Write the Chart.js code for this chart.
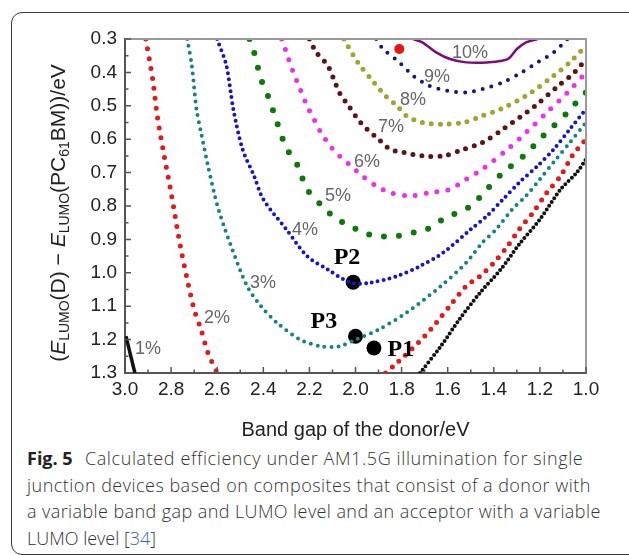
<!DOCTYPE html>
<html>
<head>
<meta charset="utf-8">
<script src="https://cdn.jsdelivr.net/npm/chart.js@4.4.0/dist/chart.umd.min.js"></script>
<style>
  body { margin: 0; background: #fff; width: 629px; height: 555px; overflow: hidden; position: relative; }
  .box { position: absolute; left: 11px; top: 12px; width: 640px; height: 541px; border: 1px solid #3a3a3a; border-radius: 11px; }
  #wrap { position: absolute; left: 0; top: 0; }
  .cap { position: absolute; left: 27px; top: 445px; width: 600px; white-space: nowrap;
         font-family: 'Open Sans', sans-serif; font-weight: 300; font-size: 18px; line-height: 26.6px; color: #333; }
  .cap b { color: #222; font-weight: 700; margin-right: 7px; letter-spacing: 0; }
  .cap span { color: #3b5fc0; }
  .l1 { letter-spacing: 0.6px; }
  .l2 { letter-spacing: 0.48px; }
  .l3 { letter-spacing: 0.41px; }
</style>
</head>
<body>
<div class="box"></div>
<div id="wrap"><canvas id="eff" width="629" height="445"></canvas></div>
<div class="cap">
  <div class="l1"><b>Fig. 5</b>&nbsp;Calculated efficiency under AM1.5G illumination for single</div>
  <div class="l2">junction devices based on composites that consist of a donor with</div>
  <div class="l3">a variable band gap and LUMO level and an acceptor with a variable</div>
  <div>LUMO level [<span>34</span>]</div>
</div>
<script>
// contour lines: [band gap, LUMO offset]
const c1a = [[2.996, 1.19], [2.957, 1.30]];
const c1b = [[1.72, 1.30], [1.63, 1.22], [1.55, 1.14], [1.46, 1.06], [1.37, 0.99], [1.29, 0.915], [1.20, 0.84], [1.11, 0.75], [1.04, 0.70], [1.0, 0.66]];
const c2a = [[2.91, 0.30], [2.88, 0.42], [2.86, 0.53], [2.83, 0.65], [2.80, 0.76], [2.76, 0.92], [2.73, 1.02], [2.70, 1.11], [2.67, 1.17], [2.64, 1.24], [2.60, 1.30]];
const c2b = [[1.87, 1.30], [1.82, 1.27], [1.70, 1.19], [1.65, 1.15], [1.58, 1.09], [1.52, 1.04], [1.46, 1.01], [1.40, 0.97], [1.34, 0.92], [1.29, 0.87], [1.23, 0.82], [1.17, 0.76], [1.11, 0.71], [1.06, 0.65], [1.0, 0.60]];
const c3 = [[2.73, 0.30], [2.71, 0.38], [2.69, 0.51], [2.67, 0.58], [2.64, 0.68], [2.61, 0.77], [2.59, 0.82], [2.54, 0.92], [2.47, 1.04], [2.41, 1.10], [2.34, 1.15], [2.24, 1.20], [2.15, 1.22], [2.07, 1.22], [2.00, 1.20], [1.90, 1.17], [1.78, 1.12], [1.63, 1.04], [1.52, 0.97], [1.45, 0.91], [1.39, 0.87], [1.32, 0.81], [1.26, 0.77], [1.20, 0.72], [1.13, 0.66], [1.07, 0.61], [1.0, 0.55]];
const c4 = [[2.60, 0.30], [2.56, 0.38], [2.53, 0.51], [2.49, 0.63], [2.44, 0.71], [2.40, 0.78], [2.30, 0.87], [2.21, 0.95], [2.12, 0.99], [2.02, 1.03], [1.94, 1.03], [1.82, 1.01], [1.72, 0.98], [1.62, 0.94], [1.50, 0.87], [1.43, 0.83], [1.36, 0.78], [1.29, 0.73], [1.21, 0.68], [1.14, 0.63], [1.07, 0.57], [1.0, 0.51]];
const c5 = [[2.46, 0.30], [2.44, 0.34], [2.41, 0.42], [2.38, 0.47], [2.34, 0.55], [2.31, 0.61], [2.28, 0.65], [2.25, 0.68], [2.21, 0.75], [2.13, 0.81], [2.08, 0.84], [2.02, 0.86], [1.97, 0.88], [1.90, 0.89], [1.82, 0.89], [1.75, 0.88], [1.69, 0.87], [1.62, 0.84], [1.56, 0.82], [1.50, 0.80], [1.43, 0.75], [1.36, 0.70], [1.27, 0.65], [1.20, 0.60], [1.14, 0.56], [1.08, 0.52], [1.03, 0.48], [1.0, 0.46]];
const c6 = [[2.32, 0.30], [2.30, 0.34], [2.27, 0.40], [2.24, 0.45], [2.21, 0.50], [2.18, 0.54], [2.15, 0.58], [2.11, 0.62], [2.07, 0.65], [2.02, 0.68], [1.97, 0.71], [1.91, 0.74], [1.85, 0.76], [1.76, 0.77], [1.68, 0.76], [1.59, 0.75], [1.52, 0.72], [1.45, 0.69], [1.34, 0.63], [1.26, 0.58], [1.17, 0.52], [1.08, 0.46], [1.0, 0.40]];
const c7 = [[2.20, 0.30], [2.17, 0.34], [2.12, 0.38], [2.07, 0.46], [2.03, 0.50], [1.99, 0.54], [1.95, 0.57], [1.90, 0.60], [1.85, 0.63], [1.79, 0.64], [1.71, 0.65], [1.62, 0.65], [1.53, 0.63], [1.45, 0.61], [1.36, 0.57], [1.22, 0.50], [1.12, 0.44], [1.05, 0.40], [1.0, 0.36]];
const c8 = [[2.05, 0.30], [1.99, 0.37], [1.92, 0.43], [1.87, 0.47], [1.82, 0.50], [1.78, 0.53], [1.71, 0.55], [1.62, 0.555], [1.53, 0.55], [1.45, 0.53], [1.37, 0.51], [1.26, 0.47], [1.14, 0.41], [1.07, 0.37], [1.0, 0.32]];
const c9 = [[1.91, 0.30], [1.88, 0.33], [1.81, 0.37], [1.75, 0.41], [1.68, 0.44], [1.60, 0.455], [1.52, 0.46], [1.45, 0.45], [1.36, 0.43], [1.28, 0.40], [1.21, 0.37], [1.14, 0.34], [1.08, 0.30]];
const c10 = [[1.75, 0.30], [1.71, 0.31], [1.65, 0.34], [1.59, 0.36], [1.52, 0.37], [1.43, 0.37], [1.34, 0.36], [1.30, 0.33], [1.26, 0.31], [1.21, 0.30]];

const pctText = ['1%', '2%', '3%', '4%', '5%', '6%', '7%', '8%', '9%', '10%'];
const pctAt = [[2.90, 1.228], [2.601, 1.135], [2.401, 1.031], [2.219, 0.872], [2.076, 0.770], [1.950, 0.668], [1.846, 0.563], [1.751, 0.483], [1.646, 0.414], [1.503, 0.342]];

const pName = ['P1', 'P2', 'P3'];
const pGap = [1.92, 2.01, 2.00];
const pLumo = [1.225, 1.028, 1.19];
const pNameAt = [[1.803, 1.231], [2.037, 0.956], [2.137, 1.147]];
const bestGap = [1.81];
const bestLumo = [0.33];

const xTicks = [3.0, 2.8, 2.6, 2.4, 2.2, 2.0, 1.8, 1.6, 1.4, 1.2, 1.0];

function pts(a) {
    return a.map(function (p) { return { x: p[0], y: p[1] } });
}

function dotted(data, color, size, gap) {
    return {
        data: pts(data), showLine: true, pointRadius: 0, tension: 0.3, clip: 0,
        borderColor: color, borderWidth: size, borderDash: [0, gap], borderCapStyle: 'round'
    };
}

function solid(data, color, size) {
    return { data: pts(data), showLine: true, pointRadius: 0, tension: 0.3, clip: 0, borderColor: color, borderWidth: size };
}

// y title with subscripts, ticks pointing in, labels on the contours
const extras = {
    id: 'extras',
    afterDraw: function (chart) {
        const ctx = chart.ctx;
        const xs = chart.scales.x, ys = chart.scales.y;
        const a = chart.chartArea;
        ctx.save();

        ctx.strokeStyle = '#999';
        ctx.lineWidth = 2;
        ctx.beginPath();
        ctx.moveTo(a.left, a.top); ctx.lineTo(a.right, a.top); ctx.lineTo(a.right, a.bottom);
        ctx.stroke();

        ctx.strokeStyle = '#555';
        ctx.lineWidth = 1.5;
        ctx.beginPath();
        for (let i = 10; i <= 30; i++) {
            const px = xs.getPixelForValue(i / 10);
            const len = i % 2 == 0 ? 6 : 3.5;
            ctx.moveTo(px, a.bottom); ctx.lineTo(px, a.bottom - len);
        }
        for (let i = 30; i <= 130; i += 5) {
            const py = ys.getPixelForValue(i / 100);
            const len = i % 10 == 0 ? 6 : 3.5;
            ctx.moveTo(a.left, py); ctx.lineTo(a.left + len, py);
        }
        ctx.stroke();

        ctx.fillStyle = '#666';
        ctx.font = '18px "Liberation Sans", Arial';
        ctx.textAlign = 'center';
        ctx.textBaseline = 'middle';
        pctText.forEach(function (t, i) {
            ctx.fillText(t, xs.getPixelForValue(pctAt[i][0]), ys.getPixelForValue(pctAt[i][1]));
        });

        ctx.fillStyle = '#000';
        ctx.font = 'bold 24px "Liberation Serif", "Times New Roman"';
        pName.forEach(function (t, i) {
            ctx.fillText(t, xs.getPixelForValue(pNameAt[i][0]), ys.getPixelForValue(pNameAt[i][1]));
        });

        // (E_LUMO(D) - E_LUMO(PC61BM))/eV
        const parts = [
            ['(', 'n'], ['E', 'i'], ['LUMO', 's'], ['(D) \u2212 ', 'n'], ['E', 'i'], ['LUMO', 's'],
            ['(PC', 'n'], ['61', 's'], ['BM))/eV', 'n']
        ];
        const fonts = { n: '21px "Liberation Sans"', i: 'italic 21px "Liberation Sans"', s: '14px "Liberation Sans"' };
        let total = 0;
        parts.forEach(function (p) { ctx.font = fonts[p[1]]; total += ctx.measureText(p[0]).width; });
        ctx.translate(57, (a.top + a.bottom) / 2 + 7);
        ctx.rotate(-Math.PI / 2);
        ctx.fillStyle = '#222';
        ctx.textAlign = 'left';
        ctx.textBaseline = 'alphabetic';
        let cx = -total / 2;
        parts.forEach(function (p) {
            ctx.font = fonts[p[1]];
            ctx.fillText(p[0], cx, p[1] == 's' ? 12 : 7.5);
            cx += ctx.measureText(p[0]).width;
        });
        ctx.restore();
    }
};

const ctx = document.getElementById('eff');

new Chart(ctx, {
    type: 'scatter',
    data: {
        datasets: [
            solid(c1a, '#111', 3.5),
            dotted(c1b, '#111', 4, 4.5),
            dotted(c2a, '#e31a1c', 5, 10),
            dotted(c2b, '#e31a1c', 5, 9),
            dotted(c3, '#178282', 4, 7),
            dotted(c4, '#1616c8', 4, 6),
            dotted(c5, '#0b7a0b', 6, 15),
            dotted(c6, '#ee30ee', 5, 11),
            dotted(c7, '#5c1515', 5, 9),
            dotted(c8, '#a3a330', 5, 9),
            dotted(c9, '#15157a', 4, 9),
            solid(c10, '#7b0d7b', 2.5),
            {
                data: pGap.map(function (g, i) { return { x: g, y: pLumo[i] } }),
                pointRadius: 7.5, pointBackgroundColor: '#000', pointBorderWidth: 0
            },
            {
                data: bestGap.map(function (g, i) { return { x: g, y: bestLumo[i] } }),
                pointRadius: 5, pointBackgroundColor: '#ee1111', pointBorderWidth: 0
            }
        ]
    },
    options: {
        responsive: false,
        animation: false,
        layout: { padding: { left: 0, top: 39, right: 43, bottom: 0 } },
        plugins: { legend: { display: false }, tooltip: { enabled: false } },
        scales: {
            x: {
                type: 'linear', reverse: true, min: 1.0, max: 3.0,
                afterBuildTicks: function (s) { s.ticks = xTicks.map(function (v) { return { value: v } }) },
                afterFit: function (s) { s.height = 72 },
                grid: { display: false, drawTicks: false },
                border: { display: true, color: '#555', width: 2 },
                ticks: {
                    color: '#222', padding: 5, maxRotation: 0, autoSkip: false,
                    font: { family: '"Liberation Sans", Arial', size: 19 },
                    callback: function (v) { return Number(v).toFixed(1) }
                },
                title: {
                    display: true, text: 'Band gap of the donor/eV', color: '#222',
                    font: { family: '"Liberation Sans", Arial', size: 20 },
                    padding: { top: 0, bottom: 3 }
                }
            },
            y: {
                type: 'linear', reverse: true, min: 0.3, max: 1.3,
                ticks: {
                    stepSize: 0.1, color: '#222', padding: 8,
                    font: { family: '"Liberation Sans", Arial', size: 19 },
                    callback: function (v) { return Number(v).toFixed(1) }
                },
                afterFit: function (s) { s.width = 125 },
                grid: { display: false, drawTicks: false },
                border: { display: true, color: '#555', width: 2 }
            }
        }
    },
    plugins: [extras]
});
</script>
</body>
</html>
